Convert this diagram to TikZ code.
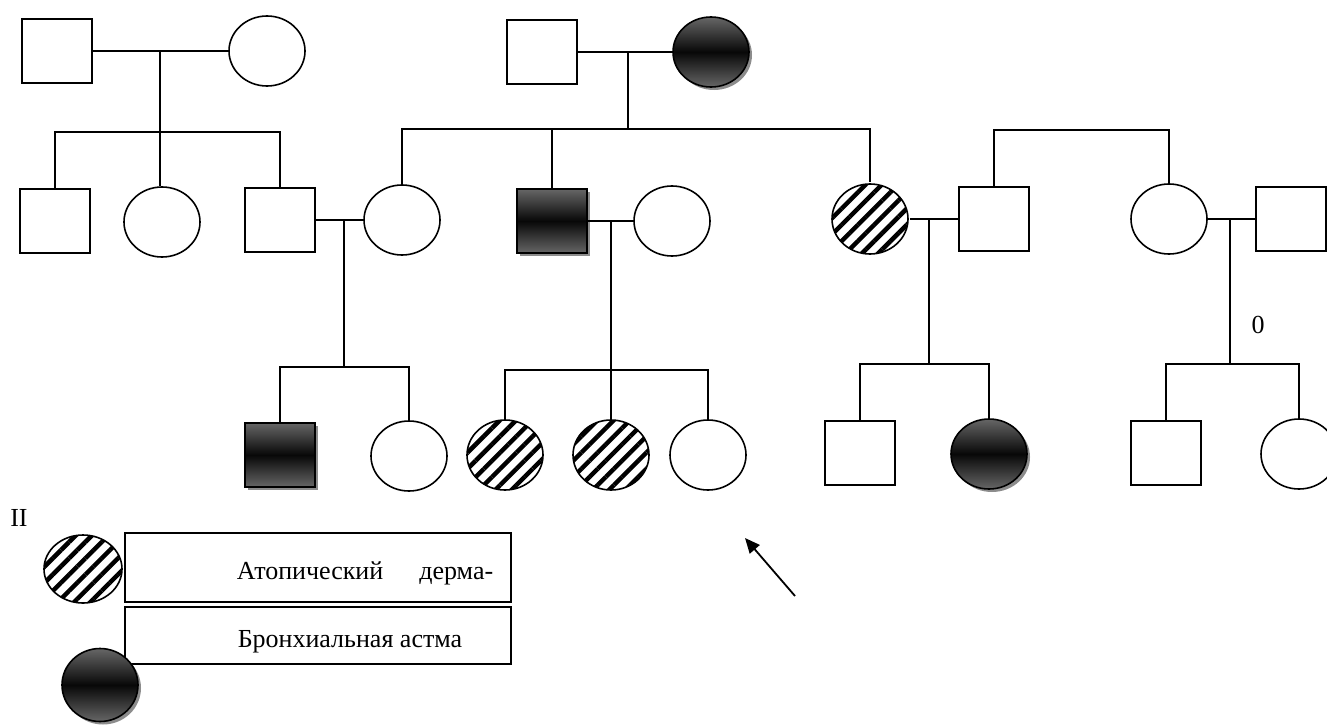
\documentclass[tikz,border=0pt]{standalone}
\usepackage{fontspec}
\setmainfont{Liberation Serif}
\usetikzlibrary{arrows.meta, positioning, shapes.geometric, shadows, patterns.meta}
\tikzset{
  male/.style={rectangle, draw, line width=1.6pt,
        minimum width=70pt, minimum height=64pt, inner sep=0pt},
  female/.style={ellipse, draw, line width=1.6pt,
        minimum width=76pt, minimum height=70pt, inner sep=0pt},
  asthma/.style={top color=black!60, bottom color=black!60, middle color=black!97,
        drop shadow={shadow xshift=3pt, shadow yshift=-3pt, fill=black!45, opacity=1}},
  dermat/.style={pattern={Lines[angle=45, distance=11.5pt, line width=4.5pt]}},
  lbl/.style={font=\fontsize{26}{30}\selectfont, inner sep=0pt},
  legbox/.style={draw, line width=1.8pt, minimum width=386pt, inner sep=0pt},
}

\begin{document}
\begin{tikzpicture}[x=1pt, y=-1pt, line width=1.5pt]
    \useasboundingbox (0,0) rectangle (1327,725);
    % generation I
    \node[male] (i1) at (57,51) {};
    \node[female] (i2) at (267,51) {};
    \node[male] (i3) at (542,52) {};
    \node[female, asthma] (i4) at (711,52) {};
    % generation II
    \node[male] (ii1) at (55,221) {};
    \node[female] (ii2) at (162,222) {};
    \node[male] (ii3) at (280,220) {};
    \node[female] (ii4) at (402,220) {};
    \node[male, asthma] (ii5) at (552,221) {};
    \node[female] (ii6) at (672,221) {};
    \node[female, dermat] (ii7) at (870,219) {};
    \node[male] (ii8) at (994,219) {};
    \node[female] (ii9) at (1169,219) {};
    \node[male] (ii10) at (1291,219) {};
    % generation III
    \node[male, asthma] (iii1) at (280,455) {};
    \node[female] (iii2) at (409,456) {};
    \node[female, dermat] (iii3) at (505,455) {};
    \node[female, dermat] (iii4) at (611,455) {};
    \node[female] (iii5) at (708,455) {};
    \node[male] (iii6) at (860,453) {};
    \node[female, asthma] (iii7) at (989,454) {};
    \node[male] (iii8) at (1166,453) {};
    \node[female] (iii9) at (1299,454) {};
    % couples
    \draw (i1) -- (i2);
    \draw (i3) -- (i4);
    \draw (ii3) -- (ii4);
    \draw (ii5) -- (ii6);
    \draw (ii7) -- (ii8);
    \draw (ii9) -- (ii10);
    % descent lines
    \coordinate (m1) at (160,51);   \coordinate (s1) at (160,132);
    \coordinate (m2) at (628,52);   \coordinate (s2) at (628,129);
    \coordinate (s7) at (1080,130);
    \coordinate (m3) at (344,220);  \coordinate (s3) at (344,367);
    \coordinate (m4) at (611,221);  \coordinate (s4) at (611,370);
    \coordinate (m5) at (929,219);  \coordinate (s5) at (929,364);
    \coordinate (m6) at (1230,219); \coordinate (s6) at (1230,364);
    \foreach \m/\s in {m1/s1, m2/s2, m3/s3, m4/s4, m5/s5, m6/s6}
      \draw (\m) -- (\s);
    \draw (ii1.north) |- (s1) -| (ii3.north);
    \draw (s1) -- (s1 |- ii2.north);
    \draw (ii4.north) |- (s2) -| (ii7.north);
    \draw (ii5.north) -- (ii5.north |- s2);
    \draw (ii8.north) |- (s7) -| (ii9.north);
    \draw (iii1.north) |- (s3) -| (iii2.north);
    \draw (iii3.north) |- (s4) -| (iii5.north);
    \draw (s4) -- (iii4);
    \draw (iii6.north) |- (s5) -| (iii7.north);
    \draw (iii8.north) |- (s6) -| (iii9.north);
    \node[lbl] (zero) at (1258,325) {0};
    % proband arrow
    \coordinate (tail) at (795,596);
    \coordinate (tip) at (745,538);
    \draw[-{Triangle[length=15pt, width=13pt]}, line width=1.8pt] (tail) -- (tip);
    % legend
    \node[lbl] (gen) at (19,518) {II};
    \node[female, dermat, minimum width=78pt, minimum height=68pt] (lh) at (83,569) {};
    \node[legbox, minimum height=69pt] (lb1) at (318,567.5) {};
    \node[legbox, minimum height=57pt] (lb2) at (318,635.5) {};
    \node[lbl, anchor=west] (lt1) at (236,573) {Атопический\hspace{36pt}дерма-};
    \node[lbl, anchor=west] (lt2) at (237,642) {Бронхиальная астма};
    \node[female, asthma, minimum width=76pt, minimum height=73pt] (la) at (100,685) {};
\end{tikzpicture}
\end{document}
